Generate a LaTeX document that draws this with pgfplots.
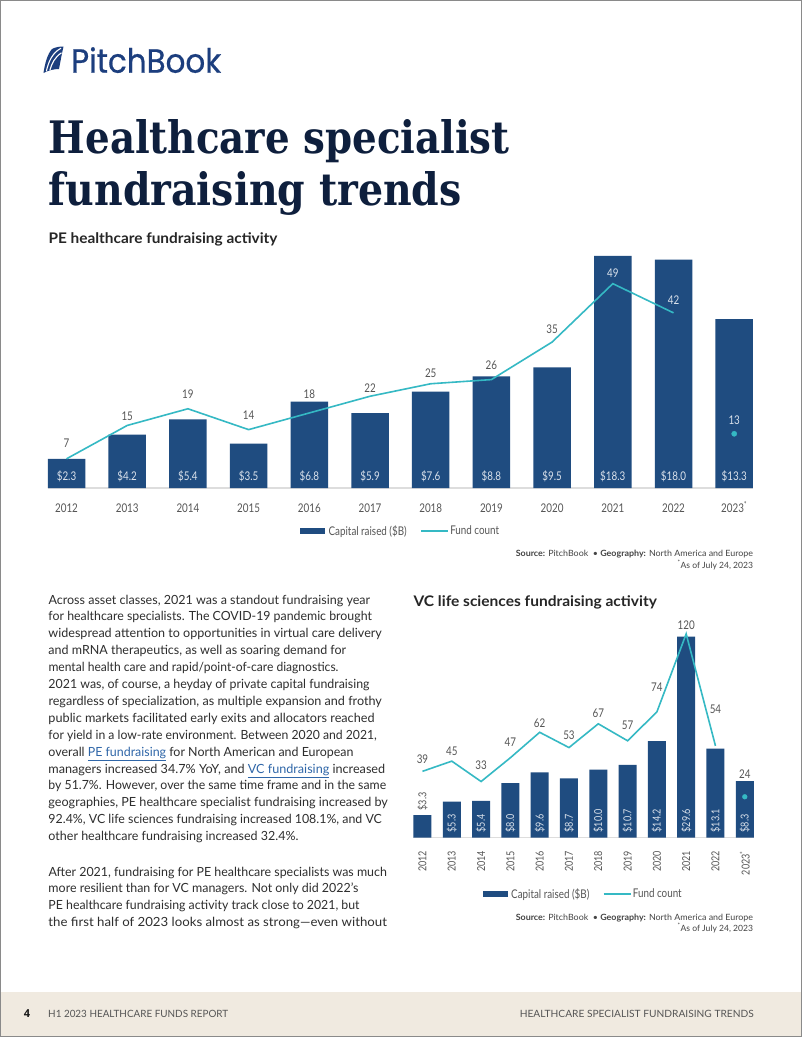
\documentclass[border=0pt]{standalone}
\usepackage{graphicx}
\usepackage{pgfplots}
\pgfplotsset{compat=1.18}
\usepackage{pgfplotstable}
\usepackage{fontspec}
\setmainfont{Lato}
\newfontfamily\cond[FakeStretch=0.82]{Lato}
\newfontfamily\titlefont{DejaVu Serif}
\newfontfamily\logofont[FakeBold=0.6]{Poppins}
\newfontfamily\headfont{Open Sans}

\definecolor{barc}{HTML}{1F4C80}
\definecolor{tealc}{HTML}{35B9C4}
\definecolor{labc}{HTML}{555555}
\definecolor{tickc}{HTML}{555555}
\definecolor{barlab}{HTML}{DCE3EC}
\definecolor{axisc}{HTML}{DDDDDD}
\definecolor{titlec}{HTML}{0E1F3D}
\definecolor{logoc}{HTML}{1C3E7E}
\definecolor{footc}{HTML}{F0EAE0}
\definecolor{linkc}{HTML}{2F66A8}
\definecolor{bodyc}{HTML}{2E2E2E}
\definecolor{srcc}{HTML}{444444}
\definecolor{bordc}{HTML}{8A8A8A}

\pgfplotstableread{
x cap cnt laby
0 2.3 7 10.8
1 4.2 15 17.3
2 5.4 19 22.5
3 3.5 14 17.5
4 6.8 18 22.5
5 5.9 22 23.9
6 7.6 25 27.5
7 8.8 26 29.5
8 9.5 35 38.1
9 18.3 49 51.6
10 18.0 42 45.1
11 13.3 13 16.3
}\pedata

\pgfplotstableread{
x cap cnt laby
0 3.3 39 46.3
1 5.3 45 51.1
2 5.4 33 42.7
3 8.0 47 56.3
4 9.6 62 67.6
5 8.7 53 60.4
6 10.0 67 73.4
7 10.7 57 65.9
8 14.2 74 88.3
9 29.6 120 125.2
10 13.1 54 75.7
11 8.3 24 37.4
}\vcdata

\newcommand\lnk[1]{\textcolor{linkc}{\underline{#1}}}
\newcommand\bodyline[3]{\node[anchor=base west, inner sep=0pt, text=bodyc] at (48.3,#1) {\resizebox{#2pt}{\height}{\fontsize{12.6}{15}\selectfont #3}};}
\newcommand\cfont{\cond\fontsize{12}{12}\selectfont}
\newcommand\sfont{\cond\fontsize{11}{11}\selectfont}

\begin{document}
\begin{tikzpicture}
\path[use as bounding box] (0,0) rectangle (802pt,-1037pt);
\begin{scope}[x=1pt,y=-1pt]
\fill[white] (0,0) rectangle (802,1037);
\fill[footc] (1,992) rectangle (801,1036);
\draw[bordc, line width=1pt] (0.5,0.5) rectangle (801.5,1036.5);
% logo
\fill[logoc] (43.5,73) .. controls (45,63) and (47.5,54) .. (52,49) .. controls (55.5,47) and (60,46.5) .. (63.5,46.5) .. controls (62,53) and (60.5,61) .. (59,69) .. controls (53.5,69) and (48,70.5) .. (43.5,73) -- cycle;
\draw[white, line width=1.1pt] (46.3,71.3) .. controls (48.5,62) and (52,53) .. (61,48.2);
\draw[white, line width=1.1pt] (49.8,70.3) .. controls (52,63) and (55,57) .. (61.5,52.8);
\node[anchor=base west, inner sep=0pt, text=logoc] at (71,72.7) {\resizebox{150pt}{25.5pt}{\logofont PitchBook}};
% title
\node[anchor=base west, inner sep=0pt, text=titlec] at (48.5,153.3) {\resizebox{461pt}{34pt}{\titlefont\bfseries Healthcare specialist}};
\node[anchor=base west, inner sep=0pt, text=titlec] at (48.5,205) {\resizebox{413pt}{34pt}{\titlefont\bfseries fundraising trends}};
% subtitles
\node[anchor=base west, inner sep=0pt, text=black!85] at (48.3,243) {\resizebox{229pt}{\height}{\fontsize{14.6}{17}\selectfont\bfseries PE healthcare fundraising activity}};
\node[anchor=base west, inner sep=0pt, text=black!85] at (413.3,606) {\resizebox{243.4pt}{\height}{\fontsize{14.6}{17}\selectfont\bfseries VC life sciences fundraising activity}};
% sources
\node[anchor=base east, inner sep=0pt, text=srcc] at (753.3,556.7) {\resizebox{237.3pt}{\height}{\fontsize{8.6}{10}\selectfont\textbf{Source:} PitchBook \ \textbullet\ \textbf{Geography:} North America and Europe}};
\node[anchor=base east, inner sep=0pt, text=srcc] at (753.3,568.3) {\resizebox{75.6pt}{\height}{\fontsize{8.6}{10}\selectfont\textsuperscript{*}As of July 24, 2023}};
\node[anchor=base east, inner sep=0pt, text=srcc] at (753.3,920) {\resizebox{237.3pt}{\height}{\fontsize{8.6}{10}\selectfont\textbf{Source:} PitchBook \ \textbullet\ \textbf{Geography:} North America and Europe}};
\node[anchor=base east, inner sep=0pt, text=srcc] at (753.3,931.7) {\resizebox{75.6pt}{\height}{\fontsize{8.6}{10}\selectfont\textsuperscript{*}As of July 24, 2023}};
% body
\bodyline{604}{321.7}{Across asset classes, 2021 was a standout fundraising year}
\bodyline{620.9}{323.4}{for healthcare specialists. The COVID-19 pandemic brought}
\bodyline{637.8}{333.4}{widespread attention to opportunities in virtual care delivery}
\bodyline{654.7}{297.7}{and mRNA therapeutics, as well as soaring demand for}
\bodyline{671.6}{290}{mental health care and rapid/point-of-care diagnostics.}
\bodyline{688.5}{321}{2021 was, of course, a heyday of private capital fundraising}
\bodyline{705.4}{333.4}{regardless of specialization, as multiple expansion and frothy}
\bodyline{722.3}{326}{public markets facilitated early exits and allocators reached}
\bodyline{739.2}{328.4}{for yield in a low-rate environment. Between 2020 and 2021,}
\bodyline{756.1}{305}{overall \lnk{PE fundraising} for North American and European}
\bodyline{773}{336.7}{managers increased 34.7\% YoY, and \lnk{VC fundraising} increased}
\bodyline{789.9}{337.7}{by 51.7\%. However, over the same time frame and in the same}
\bodyline{806.8}{339.4}{geographies, PE healthcare specialist fundraising increased by}
\bodyline{823.7}{333.4}{92.4\%, VC life sciences fundraising increased 108.1\%, and VC}
\bodyline{840.6}{250}{other healthcare fundraising increased 32.4\%.}
\bodyline{876}{338.4}{After 2021, fundraising for PE healthcare specialists was much}
\bodyline{892.9}{310}{more resilient than for VC managers. Not only did 2022’s}
\bodyline{909.8}{311}{PE healthcare fundraising activity track close to 2021, but}
\bodyline{926.7}{338.4}{the first half of 2023 looks almost as strong—even without}
% footer
\node[anchor=base, inner sep=0pt, text=black!90] at (27,1017.5) {\headfont\bfseries\fontsize{11}{12}\selectfont 4};
\node[anchor=base west, inner sep=0pt, text=labc] at (48,1017.5) {\resizebox{180pt}{\height}{\cond\fontsize{10}{12}\selectfont H1 2023 HEALTHCARE FUNDS REPORT}};
\node[anchor=base east, inner sep=0pt, text=labc] at (754,1017.5) {\resizebox{234pt}{\height}{\cond\fontsize{10}{12}\selectfont HEALTHCARE SPECIALIST FUNDRAISING TRENDS}};
\end{scope}

% ===== PE chart: bars =====
\begin{axis}[
  at={(47.7pt,-488pt)}, anchor=south west,
  x=60.7pt, y=12.69pt,
  xmin=-0.31, xmax=11.31, ymin=0, ymax=18.3,
  axis y line=none, axis x line*=bottom,
  x axis line style={draw=axisc, line width=1.2pt, -},
  xtick={0,1,2,3,4,5,6,7,8,9,10,11},
  xticklabels={2012,2013,2014,2015,2016,2017,2018,2019,2020,2021,2022,2023\textsuperscript{*}},
  major tick length=0pt,
  xticklabel style={font=\cfont, text=tickc, anchor=base, yshift=-24pt},
  clip=false,
  legend columns=2,
  legend style={at={(0.5,-0.185)}, anchor=center, draw=none, fill=none,
    font=\cfont, text=labc, nodes={inner sep=1.5pt},
    /tikz/every even column/.append style={column sep=12pt}},
]
\addplot[ybar, bar width=37.5pt, fill=barc, draw=none,
  legend image code/.code={\fill[barc] (0pt,-3pt) rectangle (25pt,3pt); \path (27pt,0pt);}]
  table[x=x,y=cap]\pedata;
\addlegendentry{Capital raised (\$B)}
\addlegendimage{legend image code/.code={\draw[tealc, line width=1.5pt] (0pt,0pt) -- (27pt,0pt);}}
\addlegendentry{Fund count}
\addplot[draw=none, forget plot, nodes near coords={\$\pgfplotspointmeta}, point meta=explicit symbolic,
  nodes near coords style={anchor=center, yshift=12pt, font=\cfont, text=barlab}]
  table[x=x, y expr=0, meta=cap]\pedata;
\end{axis}
% ===== PE chart: line =====
\begin{axis}[
  at={(47.7pt,-488pt)}, anchor=south west,
  x=60.7pt, y=4.17pt,
  xmin=-0.31, xmax=11.31, ymin=0, ymax=56,
  hide axis, clip=false,
]
\addplot[tealc, line width=1.6pt, skip coords between index={11}{12}] table[x=x,y=cnt]\pedata;
\addplot[only marks, mark=*, mark size=2.6pt, tealc, skip coords between index={0}{11}] table[x=x,y=cnt]\pedata;
\addplot[draw=none, nodes near coords, point meta=explicit symbolic,
  skip coords between index={9}{12},
  nodes near coords style={anchor=center, font=\cfont, text=labc}]
  table[x=x,y=laby,meta=cnt]\pedata;
\addplot[draw=none, nodes near coords, point meta=explicit symbolic,
  skip coords between index={0}{9},
  nodes near coords style={anchor=center, font=\cfont, text=barlab}]
  table[x=x,y=laby,meta=cnt]\pedata;
\end{axis}

% ===== VC chart: bars =====
\begin{axis}[
  at={(413.4pt,-837.5pt)}, anchor=south west,
  x=29.3pt, y=6.79pt,
  xmin=-0.31, xmax=11.31, ymin=0, ymax=29.6,
  axis y line=none, axis x line*=bottom,
  x axis line style={draw=axisc, line width=1.2pt, -},
  xtick={0,1,2,3,4,5,6,7,8,9,10,11},
  xticklabels={2012,2013,2014,2015,2016,2017,2018,2019,2020,2021,2022,2023\textsuperscript{*}},
  major tick length=0pt,
  xticklabel style={font=\sfont, text=tickc, yshift=-10pt, rotate=90, anchor=east},
  clip=false,
  legend columns=2,
  legend style={at={(0.498,-0.281)}, anchor=center, draw=none, fill=none,
    font=\cfont, text=labc, nodes={inner sep=1.5pt},
    /tikz/every even column/.append style={column sep=12pt}},
]
\addplot[ybar, bar width=18pt, fill=barc, draw=none,
  legend image code/.code={\fill[barc] (0pt,-3pt) rectangle (25pt,3pt); \path (27pt,0pt);}]
  table[x=x,y=cap]\vcdata;
\addlegendentry{Capital raised (\$B)}
\addlegendimage{legend image code/.code={\draw[tealc, line width=1.5pt] (0pt,0pt) -- (27pt,0pt);}}
\addlegendentry{Fund count}
\addplot[draw=none, forget plot, nodes near coords={\$\pgfplotspointmeta}, point meta=explicit symbolic,
  skip coords between index={0}{1},
  nodes near coords style={yshift=5pt, rotate=90, anchor=west, inner sep=0pt, font=\sfont, text=barlab}]
  table[x=x, y expr=0, meta=cap]\vcdata;
\addplot[draw=none, forget plot, nodes near coords={\$\pgfplotspointmeta}, point meta=explicit symbolic,
  skip coords between index={1}{12},
  nodes near coords style={yshift=4.5pt, rotate=90, anchor=west, inner sep=0pt, font=\sfont, text=labc}]
  table[x=x, y=cap, meta=cap]\vcdata;
\end{axis}
% ===== VC chart: line =====
\begin{axis}[
  at={(413.4pt,-837.5pt)}, anchor=south west,
  x=29.3pt, y=1.697pt,
  xmin=-0.31, xmax=11.31, ymin=0, ymax=125,
  hide axis, clip=false,
]
\addplot[tealc, line width=1.6pt, skip coords between index={11}{12}] table[x=x,y=cnt]\vcdata;
\addplot[only marks, mark=*, mark size=2.4pt, tealc, skip coords between index={0}{11}] table[x=x,y=cnt]\vcdata;
\addplot[draw=none, nodes near coords, point meta=explicit symbolic,
  nodes near coords style={anchor=center, font=\cfont, text=labc}]
  table[x=x,y=laby,meta=cnt]\vcdata;
\end{axis}
\end{tikzpicture}
\end{document}
